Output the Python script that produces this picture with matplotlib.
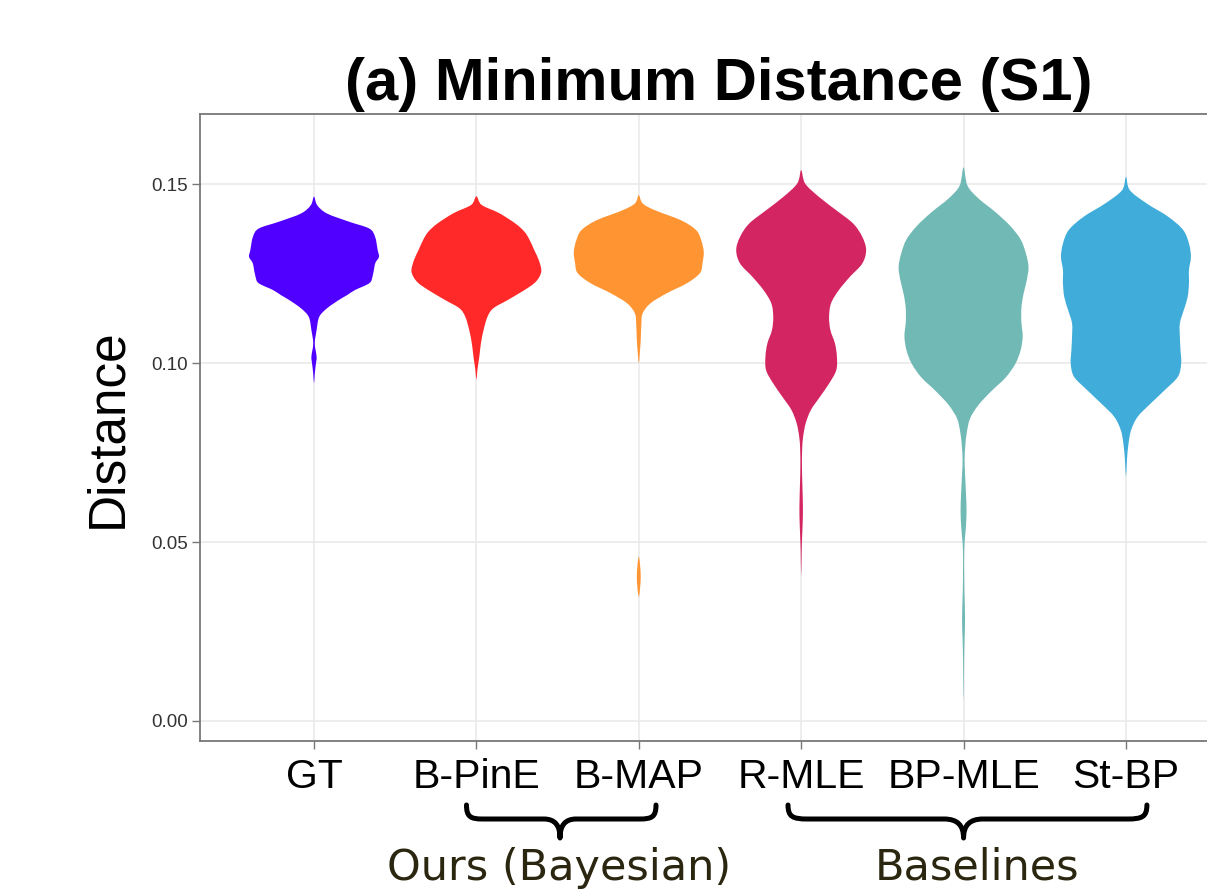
import numpy as np
import matplotlib
matplotlib.use("Agg")
import matplotlib.pyplot as plt
from matplotlib.path import Path
from matplotlib.patches import PathPatch
import matplotlib.transforms as mtransforms

# ---------------- data ----------------
methods = ["GT", "B-PinE", "B-MAP", "R-MLE", "BP-MLE", "St-BP"]
colors = ["#5000FF", "#FF2929", "#FF9433", "#D42563", "#70B9B5", "#40ACD9"]

# violin profiles: distance levels and relative density (1 = widest)
gt_dist = [.1465, .1441, .1418, .1395, .1376, .1353, .1316, .1297, .1282, .1269, .1241, .1223,
           .1204, .1190, .1176, .1153, .1129, .1092, .1055, .1018, .0999, .0971, .0943]
gt_dens = [0, .05, .20, .54, .85, .94, .98, 1.0, .95, .93, .90, .85,
           .63, .51, .38, .20, .08, .04, .012, .04, .03, .012, 0]

pine_dist = [.1466, .1442, .1419, .1390, .1367, .1344, .1316, .1288, .1260, .1241, .1223, .1204,
             .1176, .1153, .1129, .1092, .1055, .1018, .0980, .0953]
pine_dens = [0, .08, .35, .60, .74, .82, .89, .96, 1.0, .97, .89, .74,
             .48, .26, .17, .11, .07, .045, .015, 0]

map_dist = [.1469, .1446, .1427, .1399, .1372, .1344, .1311, .1278, .1251, .1223, .1195, .1167,
            .1139, .1111, .1064, .1027, .0999, .0459, .0403, .0347]
map_dens = [0, .06, .25, .65, .88, .96, 1.0, .98, .94, .74, .43, .18,
            .06, .04, .03, .015, 0, 0, .03, 0]

rmle_dist = [.1539, .1502, .1465, .1427, .1390, .1353, .1316, .1278, .1241, .1204, .1167, .1129,
             .1092, .1055, .1018, .0980, .0943, .0906, .0869, .0832, .0794, .0757, .0710, .0664,
             .0617, .0571, .0515, .0478, .0403]
rmle_dens = [0, .06, .27, .54, .80, .94, 1.0, .94, .75, .58, .46, .43,
             .45, .52, .55, .54, .43, .29, .15, .07, .03, .015, .012, .018,
             .025, .026, .015, .008, 0]

bpmle_dist = [.1547, .1496, .1460, .1422, .1383, .1345, .1306, .1268, .1229, .1191, .1153, .1114,
              .1075, .1037, .0999, .0960, .0922, .0883, .0845, .0806, .0768, .0729, .0691, .0633,
              .0585, .0537, .0498, .0460, .0421, .0364, .0287, .0229, .0172, .0114, .0056]
bpmle_dens = [0, .06, .23, .49, .72, .88, .96, 1.0, .97, .92, .89, .89,
              .91, .88, .80, .65, .43, .23, .10, .05, .026, .015, .023, .038,
              .046, .034, .015, .008, .008, .012, .023, .015, .008, .005, 0]

stbp_dist = [.1520, .1483, .1446, .1409, .1372, .1334, .1297, .1260, .1223, .1185, .1148, .1111,
             .1073, .1036, .0999, .0962, .0925, .0887, .0850, .0813, .0776, .0729, .0682]
stbp_dens = [0, .06, .32, .65, .88, .97, 1.0, .97, .97, .95, .89, .83,
             .83, .84, .85, .80, .60, .38, .18, .08, .04, .015, 0]

profiles = [(gt_dist, gt_dens), (pine_dist, pine_dens), (map_dist, map_dens),
            (rmle_dist, rmle_dens), (bpmle_dist, bpmle_dens), (stbp_dist, stbp_dens)]

yticks = [0.00, 0.05, 0.10, 0.15]
ytick_labels = ["0.00", "0.05", "0.10", "0.15"]
group_labels = ["Ours (Bayesian)", "Baselines"]

# ---------------- helpers ----------------
def smooth_closed_path(pts):
    pts = np.asarray(pts, dtype=float)
    n = len(pts)
    verts = [pts[0]]
    codes = [Path.MOVETO]
    for i in range(n):
        p0 = pts[(i - 1) % n]
        p1 = pts[i]
        p2 = pts[(i + 1) % n]
        p3 = pts[(i + 2) % n]
        c1 = p1 + (p2 - p0) / 6.0
        c2 = p2 - (p3 - p1) / 6.0
        verts += [c1, c2, p2]
        codes += [Path.CURVE4] * 3
    return Path(verts, codes)


def segments(dist, dens):
    segs, cur = [], []
    for d, w in zip(dist, dens):
        cur.append((d, w))
        if w == 0 and len(cur) > 1:
            segs.append(cur)
            cur = []
        elif w == 0 and len(cur) == 1:
            cur = [(d, w)]
    return segs


half_max = 0.4

# ---------------- figure ----------------
fig = plt.figure(figsize=(12.07, 8.89), dpi=100)
ax = fig.add_axes([200 / 1207, 148 / 889, 1038 / 1207, 627 / 889])

positions = np.arange(1, len(methods) + 1)
for pos, (dist, dens), col in zip(positions, profiles, colors):
    for seg in segments(dist, dens):
        right = [(pos + half_max * w, d) for d, w in seg]
        left = [(pos - half_max * w, d) for d, w in seg[-2:0:-1]]
        pts = right + left
        if len(pts) < 3:
            continue
        ax.add_patch(PathPatch(smooth_closed_path(pts), facecolor=col,
                               edgecolor="none", lw=0, zorder=3))

ax.set_xlim(0.298, 6.69)
ax.set_ylim(-0.0056, 0.1696)
ax.set_xticks(positions)
ax.set_xticklabels(methods, fontsize=29.5, family="Liberation Sans")
ax.set_yticks(yticks)
ax.set_yticklabels(ytick_labels, fontsize=13.5, family="Liberation Sans", color="#333333")

ax.grid(True, color="#E8E8E8", lw=1.1, zorder=0)
ax.set_axisbelow(True)
for s in ["left", "top", "bottom"]:
    ax.spines[s].set_color("#777777")
    ax.spines[s].set_linewidth(1.3)
ax.spines["right"].set_visible(False)
ax.tick_params(axis="both", direction="out", color="#777777", width=1.0)
ax.tick_params(axis="x", length=6, pad=6)
ax.tick_params(axis="y", length=6, pad=3)

ax.set_title("(a) Minimum Distance (S1)", fontsize=43, fontweight="bold",
             family="Liberation Sans", pad=10)
fig.text(108 / 1207, 1 - 428 / 889, "Distance", rotation=90, ha="center", va="center",
         fontsize=37, family="Liberation Sans")

# braces under the axis
trans = mtransforms.blended_transform_factory(ax.transData, fig.transFigure)


def brace(x0, x1, xm, yt, yb, ytip, r):
    verts = [(x0, yt),
             (x0, yt + (yb - yt) * 0.85), (x0 + r * 0.25, yb), (x0 + r, yb),
             (xm - r, yb),
             (xm - r * 0.3, yb), (xm, yb + (ytip - yb) * 0.35), (xm, ytip),
             (xm, yb + (ytip - yb) * 0.35), (xm + r * 0.3, yb), (xm + r, yb),
             (x1 - r, yb),
             (x1 - r * 0.25, yb), (x1, yt + (yb - yt) * 0.85), (x1, yt)]
    codes = [Path.MOVETO,
             Path.CURVE4, Path.CURVE4, Path.CURVE4,
             Path.LINETO,
             Path.CURVE4, Path.CURVE4, Path.CURVE4,
             Path.CURVE4, Path.CURVE4, Path.CURVE4,
             Path.LINETO,
             Path.CURVE4, Path.CURVE4, Path.CURVE4]
    p = PathPatch(Path(verts, codes), facecolor="none", edgecolor="black", lw=3.6,
                  transform=trans, clip_on=False, capstyle="round", joinstyle="round")
    fig.add_artist(p)


yt, yb, ytip = 1 - 805 / 889, 1 - 819 / 889, 1 - 838 / 889
brace(1.939, 3.106, 2.515, yt, yb, ytip, 0.10)
brace(3.919, 6.129, 5.0, yt, yb, ytip, 0.12)

fig.text(559 / 1207, 1 - 880 / 889, group_labels[0], ha="center", va="baseline",
         fontsize=31, family="DejaVu Sans", color="#2B2610")
fig.text(977 / 1207, 1 - 880 / 889, group_labels[1], ha="center", va="baseline",
         fontsize=31, family="DejaVu Sans", color="#2B2610")

fig.savefig("out.png", dpi=100)
